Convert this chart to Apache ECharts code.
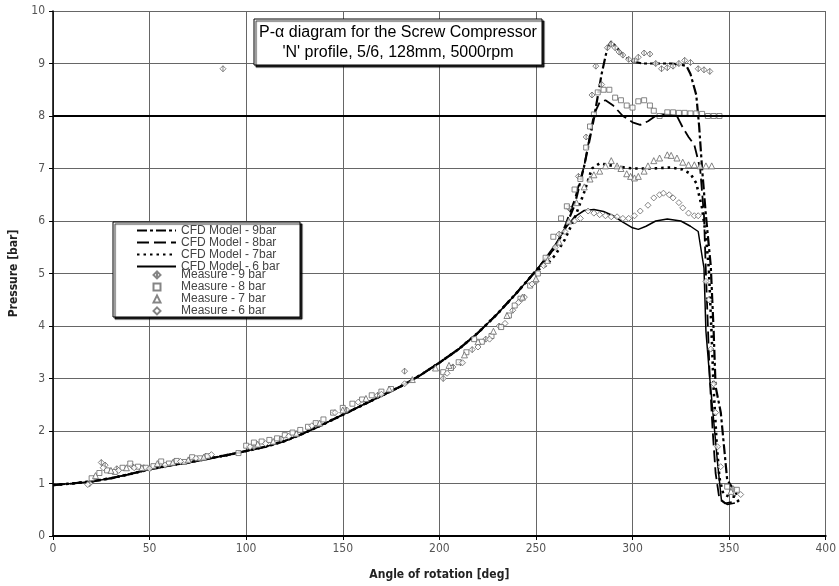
<!DOCTYPE html>
<html><head><meta charset="utf-8">
<script src="https://cdn.jsdelivr.net/npm/echarts@6/dist/echarts.min.js"></script>
<style>html,body{margin:0;padding:0;background:#fff}#c{width:839px;height:586px}</style>
</head><body><div id="c"></div>
<script>
const titleLines = ["P-\u03b1 diagram for the Screw Compressor", "'N' profile, 5/6, 128mm, 5000rpm"];
const xAxisName = "Angle of rotation [deg]";
const yAxisName = "Pressure [bar]";
const xRange = [0, 400, 50];
const yRange = [0, 10, 1];
const refLevel = 8;
const cfdNames = ["CFD Model - 9bar", "CFD Model - 8bar", "CFD Model - 7bar", "CFD Model - 6 bar"];
const measNames = ["Measure - 9 bar", "Measure - 8 bar", "Measure - 7 bar", "Measure - 6 bar"];

// shared compression part of all CFD curves [angle, pressure]
const cfdCommon = [[0,0.97],[10,1.0],[20,1.04],[30,1.1],[40,1.18],[50,1.27],[60,1.34],[70,1.4],[80,1.47],[90,1.54],[100,1.62],[110,1.7],[120,1.81],[130,1.96],[140,2.13],[150,2.31],[160,2.49],[170,2.67],[180,2.85],[190,3.06],[200,3.3],[210,3.56],[220,3.87],[230,4.23],[240,4.63],[250,5.05]];
const cfd9Tail = [[260,5.5],[265,5.85],[270,6.3],[275,7.05],[280,7.95],[284,8.8],[287,9.3],[289,9.42],[292,9.3],[296,9.12],[300,9.04],[305,9.0],[310,9.0],[315,9.0],[320,9.0],[325,8.98],[328,8.95],[330,8.8],[333,8.4],[334.5,7.8],[336,7.0],[338,6.1],[340.5,5.15],[342,3.9],[343,2.85],[345.7,2.35],[349,1.07],[354,0.79]];
const cfd8Tail = [[260,5.5],[265,5.9],[270,6.4],[275,7.05],[280,8.03],[283,8.26],[286,8.3],[290,8.2],[295,8.0],[300,7.88],[304,7.83],[308,7.9],[313,8.03],[318,8.03],[323,8.0],[326,7.78],[329,7.6],[332,7.45],[335,7.0],[337,6.1],[338,5.0],[339,4.0],[340,3.0],[341.5,2.0],[343,1.2],[345,0.7],[348,0.62],[352,0.65]];
const cfd7Tail = [[255,5.15],[260,5.35],[265,5.65],[270,6.05],[275,6.55],[279,7.0],[283,7.1],[290,7.05],[300,7.0],[310,7.0],[320,7.02],[326,6.98],[330,6.9],[333,6.72],[336,6.25],[338,5.7],[339.5,5.1],[341,3.8],[342,2.8],[343.5,1.8],[345,1.1],[347,0.8],[350,0.75],[353,0.75],[356,0.6]];
const cfd6Tail = [[260,5.55],[265,5.85],[270,6.08],[275,6.2],[280,6.22],[285,6.18],[290,6.1],[295,5.98],[300,5.87],[303,5.84],[307,5.9],[312,6.0],[318,6.04],[325,6.0],[330,5.9],[334,5.8],[337,5.1],[338,3.9],[340,3.0],[342,2.2],[344,1.4],[346,0.69],[349,0.6],[353,0.63]];

const meas9 = [[19,1.0],[25,1.4],[27,1.35],[33,1.28],[41,1.33],[47,1.3],[55,1.36],[63,1.42],[71,1.45],[79,1.52],[88,8.9],[104,1.7],[118,1.85],[136,2.12],[152,2.4],[168,2.68],[182,3.14],[202,3.0],[207,3.22],[211,3.3],[217,3.55],[224,3.75],[231,4.0],[238,4.3],[244,4.55],[250,4.85],[256,5.3],[262,5.75],[267,6.25],[272,6.85],[276,7.6],[279,8.4],[281,8.95],[284,8.6],[287,9.3],[289,9.37],[291,9.3],[293,9.22],[295,9.16],[298,9.08],[301,9.05],[303,9.12],[306,9.2],[309,9.18],[312,9.0],[315,8.9],[318,8.92],[321,8.95],[324,9.0],[327,9.06],[330,9.02],[334,8.9],[337,8.88],[340,8.85],[352,0.9]];
const meas8 = [[20,1.1],[24,1.2],[28,1.25],[32,1.22],[36,1.3],[40,1.38],[44,1.32],[48,1.3],[52,1.33],[56,1.42],[60,1.38],[64,1.43],[68,1.41],[72,1.5],[76,1.48],[80,1.52],[96,1.58],[100,1.72],[104,1.78],[108,1.8],[112,1.83],[116,1.86],[120,1.92],[124,1.97],[128,2.02],[132,2.08],[136,2.15],[140,2.22],[145,2.35],[150,2.44],[155,2.52],[160,2.6],[165,2.68],[170,2.75],[175,2.8],[202,3.12],[206,3.2],[210,3.31],[214,3.5],[218,3.75],[222,3.7],[227,3.81],[232,3.98],[236,4.2],[239,4.39],[242,4.52],[247,4.77],[251,5.0],[255,5.3],[259,5.7],[263,6.05],[266,6.28],[270,6.6],[273,6.8],[276,7.4],[278,7.8],[280,8.03],[282,8.45],[285,8.5],[288,8.5],[291,8.35],[294,8.3],[297,8.2],[300,8.16],[303,8.28],[306,8.3],[309,8.2],[311,8.1],[314,8.0],[318,8.07],[321,8.07],[324,8.06],[327,8.06],[330,8.05],[333,8.05],[336,8.04],[339,8.0],[342,8.0],[345,8.0],[349,0.94],[354,0.88]];
const meas7 = [[22,1.15],[30,1.25],[38,1.3],[46,1.3],[54,1.38],[62,1.4],[70,1.45],[78,1.5],[106,1.75],[114,1.8],[126,1.95],[138,2.15],[150,2.4],[162,2.62],[174,2.8],[186,2.98],[198,3.2],[205,3.25],[213,3.45],[220,3.7],[228,3.9],[235,4.2],[243,4.55],[250,4.9],[256,5.25],[262,5.6],[267,6.0],[271,6.35],[275,6.65],[278,6.8],[280,6.88],[283,6.95],[286,7.05],[289,7.15],[292,7.05],[294,7.0],[297,6.9],[299,6.85],[301,6.82],[303,6.85],[306,6.95],[308,7.05],[311,7.15],[314,7.2],[318,7.26],[320,7.25],[323,7.2],[326,7.12],[329,7.07],[332,7.07],[335,7.05],[338,7.05],[341,7.05],[351,0.85]];
const meas6 = [[18,0.98],[26,1.3],[34,1.25],[42,1.3],[50,1.28],[58,1.35],[66,1.42],[74,1.48],[82,1.55],[102,1.7],[110,1.76],[122,1.9],[134,2.1],[146,2.35],[158,2.55],[170,2.7],[182,2.9],[204,3.1],[212,3.3],[220,3.6],[226,3.75],[234,4.05],[241,4.45],[248,4.8],[254,5.15],[260,5.5],[265,5.8],[270,6.0],[273,6.05],[277,6.19],[280,6.15],[283,6.12],[286,6.1],[289,6.08],[292,6.08],[295,6.05],[298,6.05],[301,6.1],[304,6.19],[308,6.3],[311,6.44],[314,6.5],[316,6.53],[319,6.5],[321,6.44],[324,6.35],[326,6.25],[329,6.15],[332,6.1],[334,6.1],[338,4.85],[339.5,4.5],[340.5,3.56],[342,2.9],[343,2.35],[344,1.7],[345.6,1.32],[356,0.79]];

const narrow = "'Liberation Sans Narrow', 'DejaVu Sans Condensed', 'Liberation Sans', sans-serif";
const sans = "'Liberation Sans', Arial, sans-serif";
const diamondPlus = 'path://M5,0L10,5L5,10L0,5Z M5,0L5,10';

function lineSeries(name, data, lw, type) {
  return { name, type: 'line', data, showSymbol: false, symbol: 'none', smooth: false, z: 2,
    lineStyle: { color: '#000', width: lw, type }, itemStyle: { color: '#000' } };
}
function markSeries(name, data, symbol, size) {
  return { name, type: 'scatter', data, symbol, symbolSize: size, z: 3,
    itemStyle: { color: '#fff', borderColor: '#666', borderWidth: 1 } };
}

const series = [
  lineSeries(cfdNames[0], cfdCommon.concat(cfd9Tail), 2.2, [10, 3, 3, 3]),
  lineSeries(cfdNames[1], cfdCommon.concat(cfd8Tail), 1.8, [12, 5]),
  lineSeries(cfdNames[2], cfdCommon.concat(cfd7Tail), 2.6, [2.5, 4]),
  lineSeries(cfdNames[3], cfdCommon.concat(cfd6Tail), 1.5, 'solid'),
  markSeries(measNames[0], meas9, diamondPlus, 6),
  markSeries(measNames[1], meas8, 'rect', 5),
  markSeries(measNames[2], meas7, 'triangle', 6),
  markSeries(measNames[3], meas6, 'diamond', 6)
];
series[3].markLine = { silent: true, symbol: 'none', label: { show: false },
  lineStyle: { color: '#000', width: 2, type: 'solid' }, data: [{ yAxis: refLevel }] };

const rowH = 11.1;
const legendText = { fontFamily: sans, fontSize: 12, color: '#444', lineHeight: rowH };

const chart = echarts.init(document.getElementById('c'), null, { renderer: 'canvas' });
chart.setOption({
  animation: false,
  backgroundColor: '#fff',
  grid: { left: 53, right: 12, top: 11, bottom: 50, containLabel: false },
  xAxis: {
    type: 'value', min: xRange[0], max: xRange[1], interval: xRange[2],
    name: xAxisName, nameLocation: 'middle', nameGap: 33,
    nameTextStyle: { fontFamily: narrow, fontWeight: 'bold', fontSize: 12, color: '#222' },
    axisLine: { lineStyle: { color: '#000', width: 2 } },
    axisTick: { show: true, inside: false, length: 4, lineStyle: { color: '#000' } },
    axisLabel: { fontFamily: narrow, fontSize: 12, color: '#555', margin: 7 },
    splitLine: { show: true, lineStyle: { color: '#666', width: 1 } }
  },
  yAxis: {
    type: 'value', min: yRange[0], max: yRange[1], interval: yRange[2],
    name: yAxisName, nameLocation: 'middle', nameGap: 26, nameRotate: 90,
    nameTextStyle: { fontFamily: narrow, fontWeight: 'bold', fontSize: 12, color: '#222' },
    axisLine: { lineStyle: { color: '#000', width: 1.5 } },
    axisTick: { show: true, inside: false, length: 4, lineStyle: { color: '#000' } },
    axisLabel: { fontFamily: narrow, fontSize: 12, color: '#555', margin: 8 },
    splitLine: { show: true, lineStyle: { color: '#666', width: 1 } }
  },
  legend: [
    { data: cfdNames, orient: 'vertical', left: 136, top: 224.5, padding: 0,
      itemWidth: 39, itemHeight: 8, itemGap: 0, selectedMode: false, z: 5,
      itemStyle: { color: 'rgba(0,0,0,0)', borderColor: 'rgba(0,0,0,0)', borderWidth: 0 },
      textStyle: legendText },
    { data: measNames, orient: 'vertical', left: 152.5, top: 224.5 + 4 * rowH, padding: 0,
      itemWidth: 7, itemHeight: 7, itemGap: 0, selectedMode: false, z: 5,
      textStyle: Object.assign({ padding: [0, 0, 0, 15.5] }, legendText) }
  ],
  graphic: [
    { type: 'rect', z: 4, shape: { x: 113, y: 222, width: 187, height: 95 },
      style: { fill: '#fff', stroke: '#000', lineWidth: 1, shadowColor: 'rgba(0,0,0,0.85)', shadowOffsetX: 2, shadowOffsetY: 2, shadowBlur: 1 } },
    { type: 'rect', z: 10, shape: { x: 254, y: 19, width: 288, height: 46 },
      style: { fill: '#fff', stroke: '#000', lineWidth: 1, shadowColor: 'rgba(0,0,0,0.85)', shadowOffsetX: 2, shadowOffsetY: 2, shadowBlur: 1 } },
    { type: 'text', z: 11, x: 398, y: 33,
      style: { text: titleLines[0], font: '16px ' + sans, fill: '#000', align: 'center', verticalAlign: 'middle' } },
    { type: 'text', z: 11, x: 398, y: 53,
      style: { text: titleLines[1], font: '16px ' + sans, fill: '#000', align: 'center', verticalAlign: 'middle' } }
  ],
  series
});
</script></body></html>
